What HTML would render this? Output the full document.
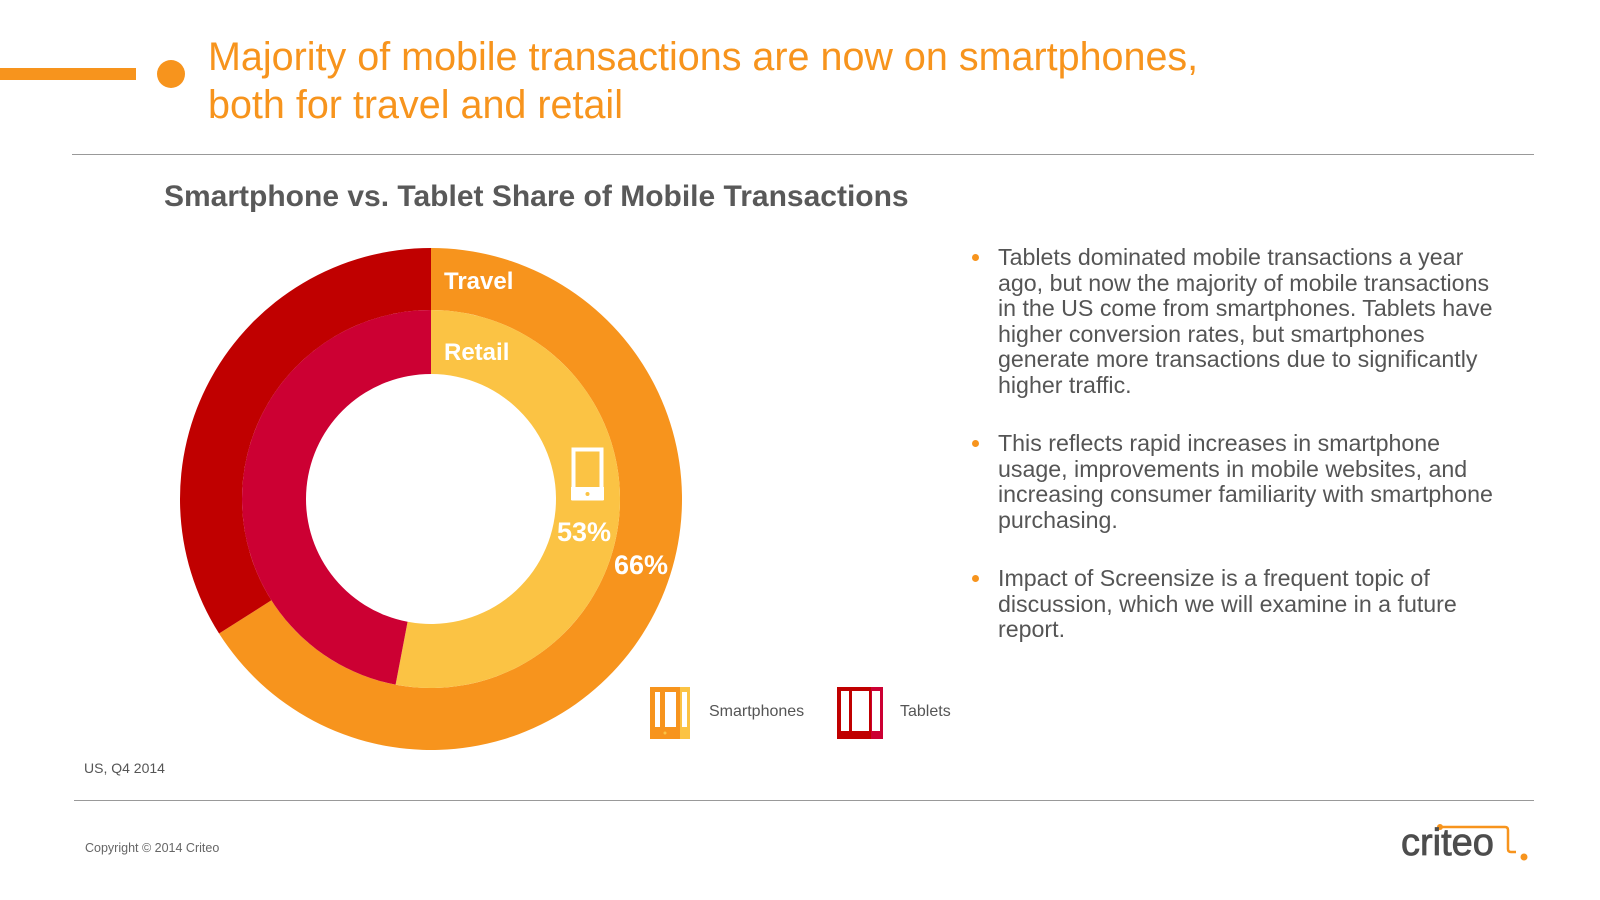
<!DOCTYPE html>
<html><head><meta charset="utf-8"><style>
html,body{margin:0;padding:0;background:#fff}
body{width:1600px;height:900px;position:relative;overflow:hidden;font-family:"Liberation Sans",Arial,sans-serif}
.a{position:absolute;white-space:nowrap}
.b{position:absolute;left:973px;width:600px;font-size:23.2px;line-height:25.5px;color:#555;white-space:nowrap}
.b .dot{position:absolute;left:-1px;top:9px;width:7px;height:7px;border-radius:50%;background:#f7941d}
.b .t{margin-left:25px}
</style></head><body>
<div class="a" style="left:0;top:68px;width:136px;height:12px;background:#f7941d"></div>
<div class="a" style="left:157px;top:60px;width:28px;height:28px;border-radius:50%;background:#f7941d"></div>
<div class="a" style="left:208px;top:33px;font-size:39.5px;line-height:48px;color:#f7941d">Majority of mobile transactions are now on smartphones,<br>both for travel and retail</div>
<div class="a" style="left:72px;top:154px;width:1462px;height:1px;background:#999"></div>
<div class="a" style="left:164px;top:180px;font-size:30px;font-weight:bold;color:#595959">Smartphone vs. Tablet Share of Mobile Transactions</div>

<svg class="a" style="left:0;top:0" width="960" height="780" id="chart"></svg>

<div class="b" style="top:245px"><span class="dot"></span><div class="t">Tablets dominated mobile transactions a year<br>ago, but now the majority of mobile transactions<br>in the US come from smartphones. Tablets have<br>higher conversion rates, but smartphones<br>generate more transactions due to significantly<br>higher traffic.</div></div>
<div class="b" style="top:431px"><span class="dot"></span><div class="t">This reflects rapid increases in smartphone<br>usage, improvements in mobile websites, and<br>increasing consumer familiarity with smartphone<br>purchasing.</div></div>
<div class="b" style="top:566px"><span class="dot"></span><div class="t">Impact of Screensize is a frequent topic of<br>discussion, which we will examine in a future<br>report.</div></div>

<div class="a" style="left:650px;top:687px;width:40px;height:52px">
<svg width="40" height="52"><rect width="40" height="52" fill="#fbc344"/><rect width="30" height="52" fill="#f7941d"/><rect x="5" y="5" width="5" height="35" fill="#fff"/><rect x="15" y="5" width="11" height="35" fill="#fff"/><rect x="32" y="5" width="5" height="35" fill="#fff"/><circle cx="15" cy="46" r="1.5" fill="#fbc344"/></svg></div>
<div class="a" style="left:709px;top:703px;font-size:16px;color:#555">Smartphones</div>
<div class="a" style="left:837px;top:687px;width:46px;height:52px">
<svg width="46" height="52"><rect width="46" height="52" fill="#cc0033"/><rect width="34" height="52" fill="#c00000"/><rect x="4" y="4" width="8" height="40" fill="#fff"/><rect x="15" y="4" width="17" height="40" fill="#fff"/><rect x="35" y="4" width="8" height="40" fill="#fff"/></svg></div>
<div class="a" style="left:900px;top:703px;font-size:16px;color:#555">Tablets</div>

<div class="a" style="left:84px;top:760px;font-size:14px;color:#555">US, Q4 2014</div>
<div class="a" style="left:74px;top:800px;width:1460px;height:1px;background:#999"></div>
<div class="a" style="left:85px;top:841px;font-size:12.5px;color:#666">Copyright © 2014 Criteo</div>
<div class="a" style="left:1400px;top:815px;width:140px;height:60px">
<svg width="140" height="60"><path d="M40 12 H105 Q108 12 108 15 V34 Q108 37 111 37 H116" stroke="#f7941d" stroke-width="2.5" fill="none"/><circle cx="40" cy="12" r="3" fill="#f7941d"/><circle cx="124" cy="42" r="3.5" fill="#f7941d"/>
<text x="1" y="40" font-family="Liberation Sans, sans-serif" font-size="38" fill="#4d4d4d" stroke="#4d4d4d" stroke-width="0.8">criteo</text></svg></div>

<script>
const rings = ['Travel','Retail'];
const smartphoneShare = [66, 53];
const tabletShare = [34, 47];
const NS='http://www.w3.org/2000/svg';
const svg=document.getElementById('chart');
const cx=431, cy=499;
const radii=[[189,251],[125,189]];
const colors=[['#f7941d','#c00000'],['#fbc344','#cc0033']];
function pt(r,a){const t=(a-90)*Math.PI/180;return [cx+r*Math.cos(t),cy+r*Math.sin(t)];}
function arc(r0,r1,a0,a1){const l=(a1-a0)>180?1:0;const p1=pt(r1,a0),p2=pt(r1,a1),p3=pt(r0,a1),p4=pt(r0,a0);
return `M${p1} A${r1} ${r1} 0 ${l} 1 ${p2} L${p3} A${r0} ${r0} 0 ${l} 0 ${p4}Z`;}
function angle(v,total){return v/total*360;}
rings.forEach((ring,i)=>{
  const total=smartphoneShare[i]+tabletShare[i];
  const a=angle(smartphoneShare[i],total);
  const [r0,r1]=radii[i];
  const s=document.createElementNS(NS,'path');
  s.setAttribute('d',arc(r0,r1,0,a));s.setAttribute('fill',colors[i][0]);
  
  
  svg.appendChild(s);
  const t=document.createElementNS(NS,'path');
  t.setAttribute('d',arc(r0,r1,a,360));t.setAttribute('fill',colors[i][1]);
  
  
  svg.appendChild(t);
});
function txt(x,y,s,size,name){const e=document.createElementNS(NS,'text');e.setAttribute('x',x);e.setAttribute('y',y);
e.setAttribute('font-size',size);e.setAttribute('font-weight','bold');e.setAttribute('fill','#fff');
e.setAttribute('font-family','Liberation Sans, sans-serif');e.textContent=s;


svg.appendChild(e);}
txt(444,289,rings[0],24,'travel-label');
txt(444,360,rings[1],24,'retail-label');
txt(557,541,smartphoneShare[1]+'%',27,'retail-smartphone-value');
txt(614,574,smartphoneShare[0]+'%',27,'travel-smartphone-value');
const ph=document.createElementNS(NS,'g');
ph.innerHTML='<rect x="573.5" y="449.5" width="28" height="49" fill="none" stroke="#fff" stroke-width="4"/><rect x="571" y="487" width="33" height="13" fill="#fff"/><circle cx="587.5" cy="494" r="2" fill="#fbc344"/>';


svg.appendChild(ph);
</script>
</body></html>
